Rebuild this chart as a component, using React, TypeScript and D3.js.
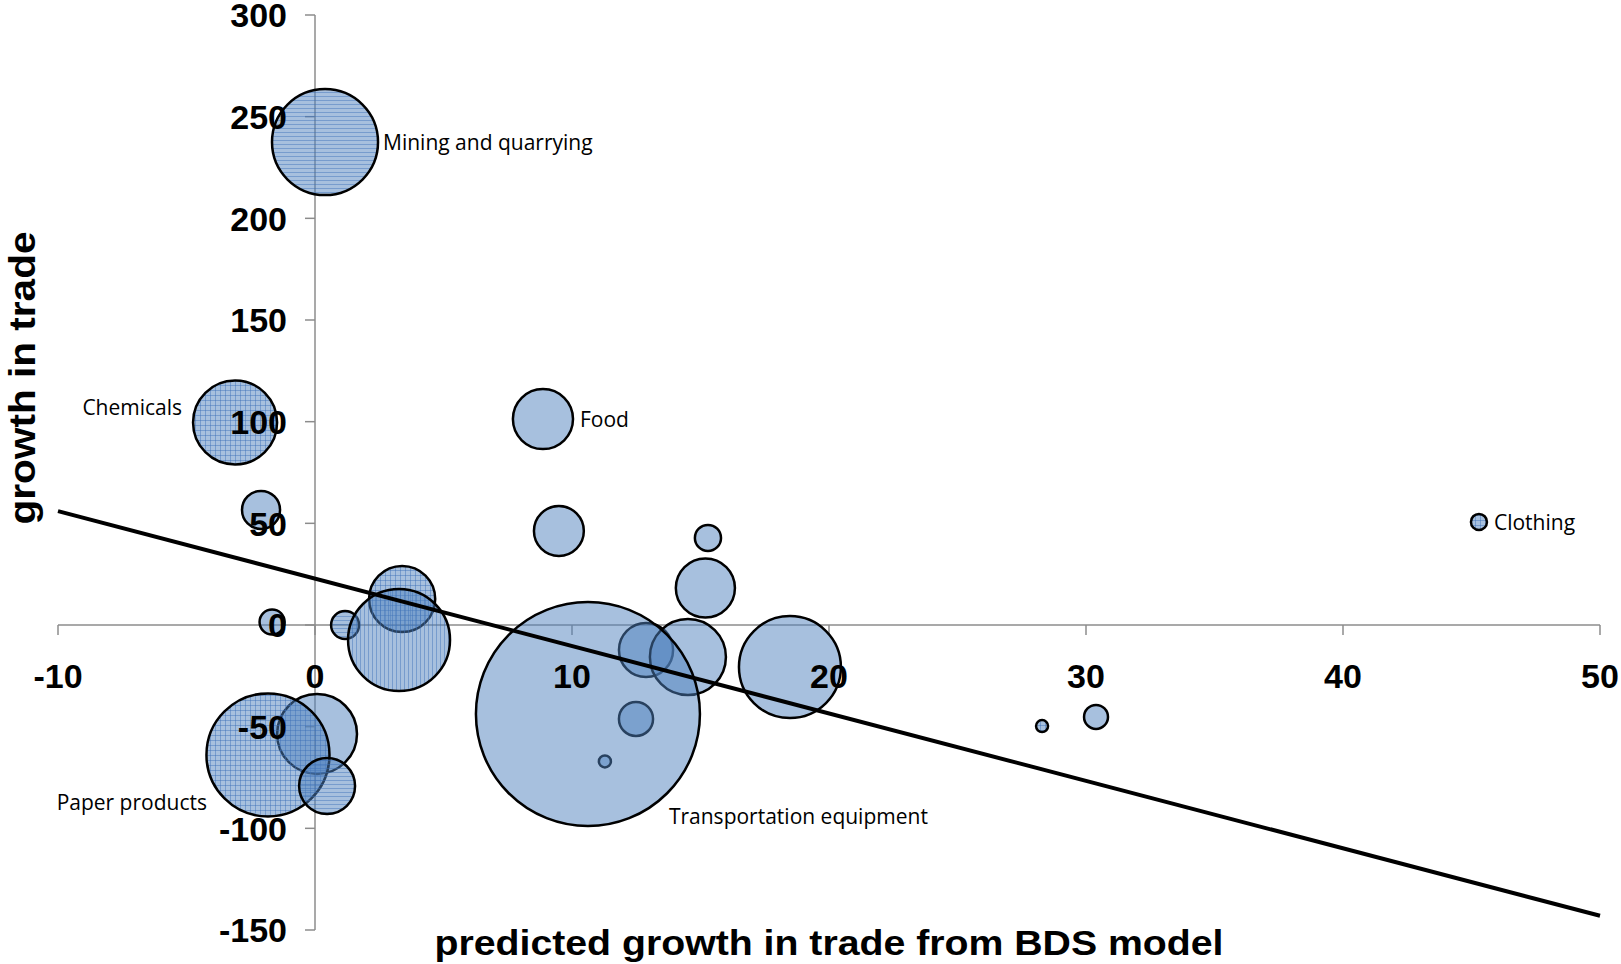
import React from "react";
import * as d3 from "d3";

// ---- data ----
const xValues = [0.39, -3.11, -2.1, -1.67, 1.17, 3.39, 3.27, 0.08, -1.83, 0.47, 8.87, 9.49, 15.29, 15.19, 12.88, 14.51, 12.49, 11.28, 10.62, 18.48, 28.29, 30.39, 45.29];
const yValues = [237.5, 99.6, 56.6, 1.5, 0, 12.8, -7.4, -53.6, -63.9, -79.2, 101.3, 46.2, 42.8, 18.2, -12.3, -15.7, -46.2, -67.1, -43.8, -20.7, -49.7, -45.2, 50.7];
const sizes = [28.0, 17.6, 3.6, 1.56, 1.95, 10.9, 25.9, 15.9, 37.7, 7.8, 9.0, 6.2, 1.7, 8.7, 7.3, 14.4, 2.9, 0.36, 125, 25.9, 0.36, 1.43, 0.64];
const labels = ["Mining and quarrying", "Chemicals", "", "", "", "", "", "", "Paper products", "", "Food", "", "", "", "", "", "", "", "Transportation equipment", "", "", "", "Clothing"];
const fills = ["hlines", "grid", "plain", "plain", "hlines", "grid", "vlines", "plain", "grid", "hlines", "plain", "plain", "plain", "plain", "plain", "plain", "plain", "plain", "plain", "plain", "grid", "plain", "grid"];
const xTicks = [-10, 0, 10, 20, 30, 40, 50];
const yTicks = [-150, -100, -50, 0, 50, 100, 150, 200, 250, 300];
const trendX = [-10, 50];
const trendY = [56, -143];

// label placement: [dx, dy, anchor]
const labelPos: Record<string, [number, number, string]> = {
  "Mining and quarrying": [58, 8, "start"],
  "Chemicals": [-53, -7, "end"],
  "Paper products": [-61, 55, "end"],
  "Food": [37, 8, "start"],
  "Transportation equipment": [81, 110, "start"],
  "Clothing": [15, 8, "start"],
};

const W = 1621;
const H = 964;

export default function App() {
  const x = d3.scaleLinear().domain([-10, 50]).range([58, 1600]);
  const y = d3.scaleLinear().domain([-150, 300]).range([930, 15]);
  const r = d3.scaleSqrt().domain([0, 125]).range([0, 112]);
  const line = d3.line<number>().x((d) => x(d)).y((_, i) => y(trendY[i]));
  const base = "rgba(79,129,189,0.5)";
  const lc = "rgba(60,110,185,0.45)";
  const axisColor = "#8c8c8c";
  const tickFont = "'Liberation Sans', Arial, sans-serif";
  const lblFont = "'Open Sans', sans-serif";

  return (
    <svg width={W} height={H} style={{ position: "absolute", left: 0, top: 0, background: "#fff" }}>
      <defs>
        <pattern id="hlines" patternUnits="userSpaceOnUse" width={4} height={4}>
          <rect width={4} height={4} fill={base} />
          <line x1={0} y1={0.5} x2={4} y2={0.5} stroke={lc} strokeWidth={1} />
        </pattern>
        <pattern id="vlines" patternUnits="userSpaceOnUse" width={4} height={4}>
          <rect width={4} height={4} fill={base} />
          <line x1={0.5} y1={0} x2={0.5} y2={4} stroke={lc} strokeWidth={1} />
        </pattern>
        <pattern id="grid" patternUnits="userSpaceOnUse" width={5} height={5}>
          <rect width={5} height={5} fill={base} />
          <line x1={0} y1={0.5} x2={5} y2={0.5} stroke={lc} strokeWidth={1} />
          <line x1={0.5} y1={0} x2={0.5} y2={5} stroke={lc} strokeWidth={1} />
        </pattern>
      </defs>

      {/* axes */}
      <line x1={x(0)} x2={x(0)} y1={y(300)} y2={y(-150)} stroke={axisColor} strokeWidth={1.5} />
      <line x1={x(-10)} x2={x(50)} y1={y(0)} y2={y(0)} stroke={axisColor} strokeWidth={1.5} />
      {yTicks.map((t) => (
        <line key={"yt" + t} x1={x(0) - 10} x2={x(0)} y1={y(t)} y2={y(t)} stroke={axisColor} strokeWidth={1.5} />
      ))}
      {xTicks.map((t) => (
        <line key={"xt" + t} x1={x(t)} x2={x(t)} y1={y(0)} y2={y(0) + 10} stroke={axisColor} strokeWidth={1.5} />
      ))}

      {/* bubbles */}
      {xValues.map((xv, i) => (
        <circle
          key={"b" + i}
          cx={x(xv)}
          cy={y(yValues[i])}
          r={r(sizes[i])}
          fill={fills[i] === "plain" ? base : `url(#${fills[i]})`}
          stroke="#000"
          strokeWidth={2.5}
        />
      ))}

      {/* tick labels */}
      {yTicks.map((t) => (
        <text key={"yl" + t} x={287} y={y(t)} dy="0.36em" textAnchor="end" fontFamily={tickFont} fontWeight="bold" fontSize={34} fill="#000">
          {t}
        </text>
      ))}
      {xTicks.map((t) => (
        <text key={"xl" + t} x={x(t)} y={688} textAnchor="middle" fontFamily={tickFont} fontWeight="bold" fontSize={34} fill="#000">
          {t}
        </text>
      ))}

      {/* trend line */}
      <path d={line(trendX) || ""} fill="none" stroke="#000" strokeWidth={4} />

      {/* data labels */}
      {labels.map((l, i) => {
        if (!l) return null;
        const p = labelPos[l];
        return (
          <text key={"l" + i} x={x(xValues[i]) + p[0]} y={y(yValues[i]) + p[1]} textAnchor={p[2] as any} fontFamily={lblFont} fontSize={21} fill="#000">
            {l}
          </text>
        );
      })}

      {/* axis titles */}
      <text x={829} y={955} textAnchor="middle" fontFamily={tickFont} fontWeight="bold" fontSize={35} textLength={789} lengthAdjust="spacingAndGlyphs" fill="#000">
        predicted growth in trade from BDS model
      </text>
      <text transform="translate(35,378) rotate(-90)" textAnchor="middle" fontFamily={tickFont} fontWeight="bold" fontSize={37} textLength={293} lengthAdjust="spacingAndGlyphs" fill="#000">
        growth in trade
      </text>
    </svg>
  );
}
